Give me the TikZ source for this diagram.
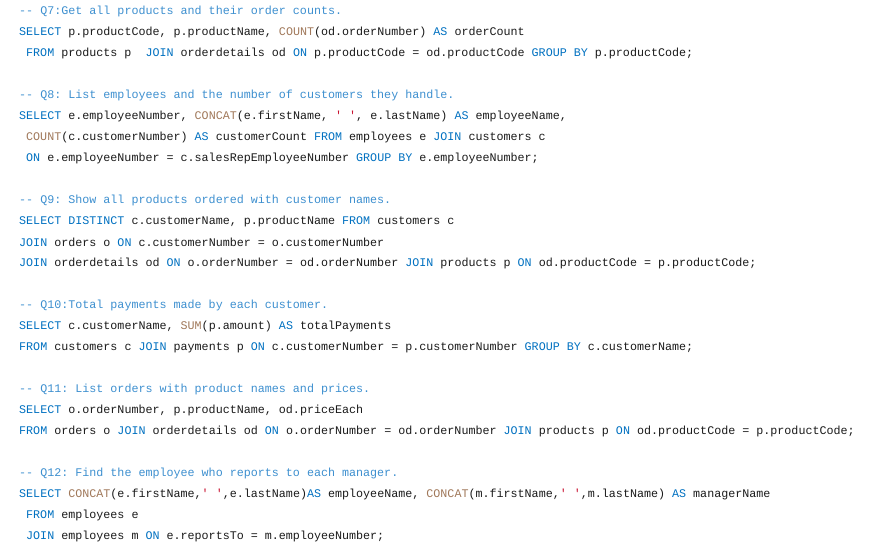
\documentclass[tikz,border=0pt]{standalone}
\usepackage{fontspec}
\setmonofont{Liberation Mono}
\definecolor{kwblue}{HTML}{0070C0}
\definecolor{cmblue}{HTML}{3D8FCF}
\definecolor{fntan}{HTML}{A0785A}
\definecolor{strred}{HTML}{C8102E}
\definecolor{codetext}{HTML}{1A1A1A}
\newcommand{\kw}[1]{\textcolor{kwblue}{#1}}
\newcommand{\fn}[1]{\textcolor{fntan}{#1}}
\newcommand{\str}[1]{\textcolor{strred}{#1}}
\newcommand{\cm}[1]{\textcolor{cmblue}{#1}}
\begin{document}
\begin{tikzpicture}
			[x=1pt,y=-1pt,
			%Styles
			code line/.style={anchor=west,inner sep=0pt,text=codetext,
				font=\ttfamily\fontsize{11.7}{14}\selectfont}
			]
			
			\useasboundingbox (0,0) rectangle (879,553);
			
			%Q7
			\node[code line] (q7c) at (19,11) {\cm{--\ Q7:Get all products and their order counts.}};
			\node[code line] (q7a) at (19,32) {\kw{SELECT} p.productCode, p.productName, \fn{COUNT}(od.orderNumber) \kw{AS} orderCount};
			\node[code line] (q7b) at (26,53) {\kw{FROM} products p\ \ \kw{JOIN} orderdetails od \kw{ON} p.productCode = od.productCode \kw{GROUP BY} p.productCode;};
			
			%Q8
			\node[code line] (q8c) at (19,95) {\cm{--\ Q8: List employees and the number of customers they handle.}};
			\node[code line] (q8a) at (19,116) {\kw{SELECT} e.employeeNumber, \fn{CONCAT}(e.firstName, \str{' '}, e.lastName) \kw{AS} employeeName,};
			\node[code line] (q8b) at (26,137) {\fn{COUNT}(c.customerNumber) \kw{AS} customerCount \kw{FROM} employees e \kw{JOIN} customers c};
			\node[code line] (q8d) at (26,158) {\kw{ON} e.employeeNumber = c.salesRepEmployeeNumber \kw{GROUP BY} e.employeeNumber;};
			
			%Q9
			\node[code line] (q9c) at (19,200) {\cm{--\ Q9: Show all products ordered with customer names.}};
			\node[code line] (q9a) at (19,221) {\kw{SELECT DISTINCT} c.customerName, p.productName \kw{FROM} customers c};
			\node[code line] (q9b) at (19,242) {\kw{JOIN} orders o \kw{ON} c.customerNumber = o.customerNumber};
			\node[code line] (q9d) at (19,263) {\kw{JOIN} orderdetails od \kw{ON} o.orderNumber = od.orderNumber \kw{JOIN} products p \kw{ON} od.productCode = p.productCode;};
			
			%Q10
			\node[code line] (q10c) at (19,305) {\cm{--\ Q10:Total payments made by each customer.}};
			\node[code line] (q10a) at (19,326) {\kw{SELECT} c.customerName, \fn{SUM}(p.amount) \kw{AS} totalPayments};
			\node[code line] (q10b) at (19,347) {\kw{FROM} customers c \kw{JOIN} payments p \kw{ON} c.customerNumber = p.customerNumber \kw{GROUP BY} c.customerName;};
			
			%Q11
			\node[code line] (q11c) at (19,389) {\cm{--\ Q11: List orders with product names and prices.}};
			\node[code line] (q11a) at (19,410) {\kw{SELECT} o.orderNumber, p.productName, od.priceEach};
			\node[code line] (q11b) at (19,431) {\kw{FROM} orders o \kw{JOIN} orderdetails od \kw{ON} o.orderNumber = od.orderNumber \kw{JOIN} products p \kw{ON} od.productCode = p.productCode;};
			
			%Q12
			\node[code line] (q12c) at (19,473) {\cm{--\ Q12: Find the employee who reports to each manager.}};
			\node[code line] (q12a) at (19,494) {\kw{SELECT} \fn{CONCAT}(e.firstName,\str{' '},e.lastName)\kw{AS} employeeName, \fn{CONCAT}(m.firstName,\str{' '},m.lastName) \kw{AS} managerName};
			\node[code line] (q12b) at (26,515) {\kw{FROM} employees e};
			\node[code line] (q12d) at (26,536) {\kw{JOIN} employees m \kw{ON} e.reportsTo = m.employeeNumber;};
		\end{tikzpicture}
\end{document}
